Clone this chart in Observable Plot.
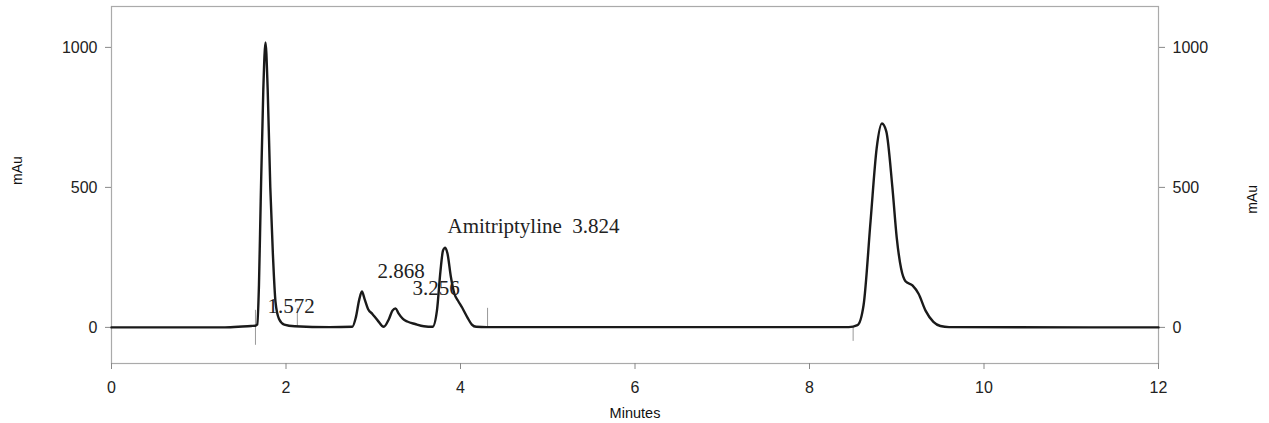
<!DOCTYPE html>
<html><head><meta charset="utf-8">
<script src="https://cdn.jsdelivr.net/npm/d3@7"></script>
<script src="https://cdn.jsdelivr.net/npm/@observablehq/plot@0.6"></script>
<style>body{margin:0;background:#fff} #chart{width:1269px;height:423px}</style>
</head><body><div id="chart"></div>
<script>
// Chromatogram trace (minutes, mAu)
const times  = [0, 1.30, 1.50, 1.60, 1.65, 1.67, 1.69, 1.71, 1.74, 1.765, 1.79, 1.82, 1.85, 1.88, 1.92, 1.98, 2.10, 2.50, 2.76, 2.80, 2.84, 2.87, 2.90, 2.94, 2.99, 3.05, 3.12, 3.18, 3.22, 3.256, 3.29, 3.34, 3.39, 3.48, 3.58, 3.68, 3.73, 3.77, 3.80, 3.825, 3.85, 3.89, 3.93, 3.97, 4.02, 4.08, 4.13, 4.18, 4.30, 8.45, 8.55, 8.62, 8.70, 8.77, 8.83, 8.88, 8.95, 9.00, 9.05, 9.10, 9.18, 9.25, 9.33, 9.42, 9.50, 9.60, 12];
const signal = [0, 0, 3, 5, 6, 10, 150, 450, 850, 1018, 850, 500, 260, 90, 30, 10, 4, 1, 2, 35, 100, 128, 102, 66, 48, 25, 2, 30, 60, 68, 50, 30, 21, 12, 4, 2, 60, 200, 275, 285, 265, 180, 120, 96, 70, 35, 10, 2, 1, 1, 8, 80, 380, 640, 728, 700, 500, 320, 210, 165, 150, 120, 60, 20, 5, 1, 0];

// Peak annotations
const peakLabels  = ["1.572", "2.868", "3.256", "Amitriptyline\u00a0 3.824"];
const labelTimes  = [1.788, 3.049, 3.45, 3.851];
const labelLevels = [50, 175, 114, 336];

// Integration event markers
const markerTimes = [1.65, 2.13, 4.31, 8.50];
const markerLow   = [-64, 0, 0, -50];
const markerHigh  = [61, 68, 68, 0];

const xTicks = [0, 2, 4, 6, 8, 10, 12];
const yTicks = [0, 500, 1000];

const trace = times.map((t, i) => ({t, v: signal[i]}));
const labels = peakLabels.map((s, i) => ({s, t: labelTimes[i], v: labelLevels[i]}));
const markers = markerTimes.map((t, i) => ({t, lo: markerLow[i], hi: markerHigh[i]}));

const chart = Plot.plot({
  width: 1269, height: 423,
  marginLeft: 111, marginRight: 111, marginTop: 6, marginBottom: 60,
  style: {fontFamily: "'Liberation Sans', Arial, sans-serif", background: "#fff", color: "#222"},
  x: {domain: [0, 12]},
  y: {domain: [-129, 1146]},
  marks: [
    Plot.frame({stroke: "#aaa", strokeWidth: 1.2}),
    Plot.ruleX(markers, {x: "t", y1: "lo", y2: "hi", stroke: "#999", strokeWidth: 1}),
    Plot.axisY(yTicks, {anchor: "left", tickSize: 6, tickPadding: 8, fontSize: 16, label: null, stroke: "#888", tickFormat: d => String(d)}),
    Plot.axisY(yTicks, {anchor: "right", tickSize: 6, tickPadding: 8, fontSize: 16, label: null, stroke: "#888", tickFormat: d => String(d)}),
    Plot.axisX(xTicks, {anchor: "bottom", tickSize: 6, tickPadding: 12, fontSize: 16, label: null, stroke: "#888", tickFormat: d => String(d)}),
    Plot.line(trace, {x: "t", y: "v", curve: "monotone-x", stroke: "#1a1a1a", strokeWidth: 2.4}),
    Plot.text(labels, {x: "t", y: "v", text: "s", textAnchor: "start", lineAnchor: "bottom",
      fontFamily: "'Liberation Serif', 'Times New Roman', serif", fontSize: 21, fill: "#222"}),
    Plot.text(["Minutes"], {frameAnchor: "bottom", dy: 54, lineAnchor: "bottom", fontSize: 14.5, fill: "#111"}),
    Plot.text(["mAu"], {frameAnchor: "left", dx: -94, rotate: -90, fontSize: 14, fill: "#111"}),
    Plot.text(["mAu"], {frameAnchor: "right", dx: 94, rotate: -90, fontSize: 14, fill: "#111"})
  ]
});
document.getElementById("chart").append(chart);
</script>
</body></html>
